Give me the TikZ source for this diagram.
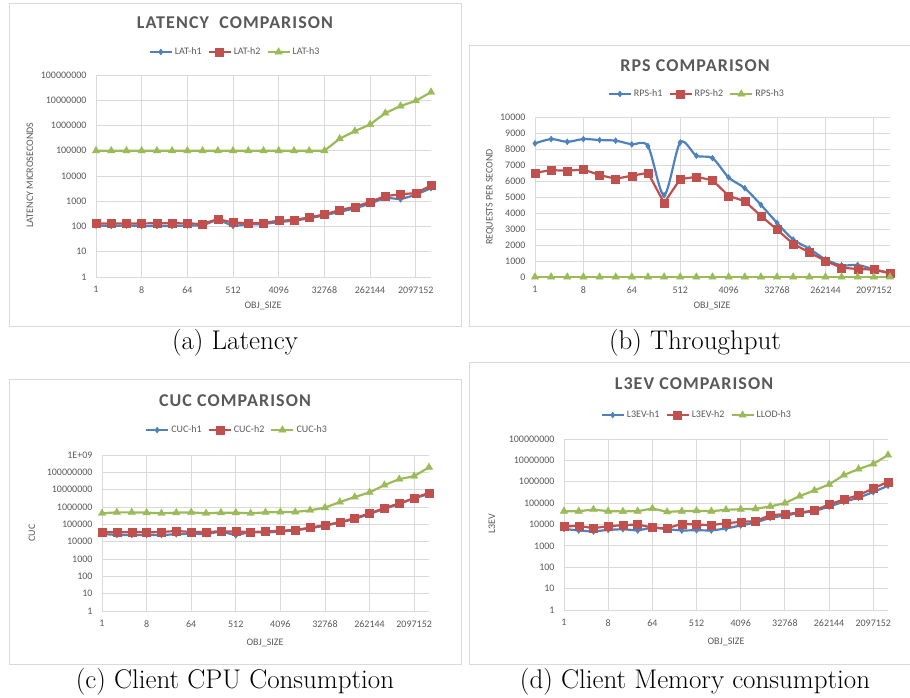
\documentclass[tikz,border=0pt]{standalone}
\usepackage{fontspec}
\usepackage{pgfplots}
\usepackage{pgfplotstable}
\pgfplotsset{compat=1.18}

\newfontfamily\xlfont{Carlito}
\newfontfamily\xlheadfont[LetterSpace=6]{Carlito}

\definecolor{xlblue}{HTML}{4F81BD}
\definecolor{xlred}{HTML}{C0504D}
\definecolor{xlgreen}{HTML}{9BBB59}
\definecolor{gridgray}{HTML}{D9D9D9}
\definecolor{txtgray}{HTML}{595959}

% measured series, one row per OBJ_SIZE (1 ... 4194304)
\pgfplotstableread{
h1 h2 h3
110 130 100000
105 132 100000
110 132 100000
105 132 100000
105 135 100000
105 135 100000
110 132 100000
110 128 100000
190 195 100000
105 145 100000
120 135 100000
125 140 100000
150 170 100000
170 180 100000
210 230 100000
280 300 100000
380 450 300000
520 600 600000
800 950 1100000
1400 1600 3100000
1200 1900 5900000
1800 2100 9500000
3300 4200 21000000
}\latdata

\pgfplotstableread{
h1 h2 h3
8350 6510 0
8620 6680 0
8450 6640 0
8620 6720 0
8560 6370 0
8520 6140 0
8290 6330 0
8180 6510 0
5110 4630 0
8410 6120 0
7580 6260 0
7430 6050 0
6220 5070 0
5550 4740 0
4510 3820 0
3380 2960 0
2340 2070 0
1770 1540 0
1100 1000 0
730 580 0
750 500 0
480 460 0
250 230 0
}\rpsdata

\pgfplotstableread{
h1 h2 h3
27800 34600 433000
24400 34600 491000
24400 34600 491000
24400 34600 472000
24400 36200 433000
26600 41400 472000
29100 36200 491000
26600 36200 433000
39700 39700 472000
23300 37900 472000
36200 36200 433000
33200 37900 491000
37900 43300 516000
45200 47200 516000
58900 64400 643000
83800 91500 915000
125000 130000 1940000
203000 231000 3760000
393000 428000 6970000
795000 869000 18400000
1470000 1610000 40600000
3260000 3260000 60300000
5530000 6600000 194000000
}\cucdata

\pgfplotstableread{
h1 h2 h3
6270 8060 42000
5230 8660 42000
4700 6720 50000
5620 8350 42000
6050 9300 41000
5230 10000 42000
7200 7200 56000
6050 6700 39000
5230 10700 42000
5400 10000 44000
5230 9300 42000
6500 11500 48700
8980 13300 52000
12400 14300 54000
20500 27400 70000
26400 30500 100000
34000 36500 213000
42000 45300 393000
69000 86600 750000
116000 148000 2050000
178000 237000 3930000
330000 487000 6760000
650000 1000000 17800000
}\evdata

\pgfplotsset{
  xlchart/.style={
    scale only axis, clip=false,
    axis line style={draw=none},
    tick style={draw=none},
    xmin=0, xmax=22,
    xtick={0,3,...,21},
    xticklabels={1,8,64,512,4096,32768,262144,2097152},
    grid=major,
    major grid style={draw=gridgray, line width=0.9pt},
    ticklabel style={font=\xlfont\fontsize{10}{12}\selectfont, text=txtgray},
    xticklabel style={yshift=-6pt},
    yticklabel style={xshift=-6pt},
    every axis plot/.append style={line width=2.2pt, mark options={line width=0.4pt}},
    legend columns=3,
    legend style={draw=none, fill=none, anchor=center,
      font=\xlfont\fontsize{10}{12}\selectfont, text=txtgray,
      /tikz/every even column/.append style={column sep=4pt}},
    legend image code/.code={\draw[mark repeat=2,mark phase=2,##1]
      plot coordinates {(0pt,0pt) (11pt,0pt) (22pt,0pt)};},
  },
  h1plot/.style={xlblue, mark=diamond*, mark size=3pt},
  h2plot/.style={xlred, mark=square*, mark size=4pt},
  h3plot/.style={xlgreen, mark=triangle*, mark size=4.3pt},
}

\begin{document}
\begin{tikzpicture}[x=1pt, y=-1pt,
    frame/.style={draw=gridgray, line width=0.9pt},
    charttitle/.style={font=\xlheadfont\bfseries\fontsize{18}{20}\selectfont, text=txtgray},
    axislabel/.style={font=\xlfont\fontsize{10}{12}\selectfont, text=txtgray},
    subcaption/.style={font=\fontsize{27}{30}\selectfont}]
  \useasboundingbox (0,0) rectangle (910,698);

  % (a) latency
  \draw[frame] (9,3) rectangle (461,326);
  \node[charttitle] (latTitle) at (235,23) {LATENCY\ \ COMPARISON};
  \coordinate (latPlot) at (96,277);
  \begin{axis}[xlchart, at={(latPlot)}, anchor=south west,
      width=335pt, height=202pt, legend style={at={(0.415,1.114)}},
      ymode=log, ymin=1, ymax=1e8,
      ytick={1,10,100,1000,10000,100000,1000000,10000000,100000000},
      yticklabels={1,10,100,1000,10000,100000,1000000,10000000,100000000}]
    \addplot[h1plot] table[x expr=\coordindex, y=h1] {\latdata};
    \addplot[h2plot] table[x expr=\coordindex, y=h2] {\latdata};
    \addplot[h3plot] table[x expr=\coordindex, y=h3] {\latdata};
    \legend{LAT-h1,LAT-h2,LAT-h3}
  \end{axis}
  \node[axislabel, rotate=90] (latY) at (30,175) {LATENCY MICROSECONDS};
  \node[axislabel] (latX) at (263,306) {OBJ\_SIZE};
  \node[subcaption] (latCap) at (235,343) {(a) Latency};

  % (b) throughput
  \draw[frame] (910,45) -- (469,45) -- (469,326) -- (910,326);
  \node[charttitle] (rpsTitle) at (695,66) {RPS COMPARISON};
  \coordinate (rpsPlot) at (535,277);
  \begin{axis}[xlchart, at={(rpsPlot)}, anchor=south west,
      width=355pt, height=160pt, legend style={at={(0.456,1.144)}},
      ymin=0, ymax=10000, ytick={0,1000,...,10000}, scaled y ticks=false,
      yticklabels={0,1000,2000,3000,4000,5000,6000,7000,8000,9000,10000}]
    \addplot[h1plot, smooth, tension=0.5] table[x expr=\coordindex, y=h1] {\rpsdata};
    \addplot[h2plot] table[x expr=\coordindex, y=h2] {\rpsdata};
    \addplot[h3plot] table[x expr=\coordindex, y=h3] {\rpsdata};
    \legend{RPS-h1,RPS-h2,RPS-h3}
  \end{axis}
  \node[axislabel, rotate=90] (rpsY) at (490,197) {REQUESTS PER SECOND};
  \node[axislabel] (rpsX) at (712,306) {OBJ\_SIZE};
  \node[subcaption] (rpsCap) at (695,343) {(b) Throughput};

  % (c) client cpu
  \draw[frame] (9,379) rectangle (461,664);
  \node[charttitle] (cucTitle) at (235,401) {CUC COMPARISON};
  \coordinate (cucPlot) at (102,611);
  \begin{axis}[xlchart, at={(cucPlot)}, anchor=south west,
      width=327pt, height=156pt, legend style={at={(0.413,1.160)}},
      ymode=log, ymin=1, ymax=1e9,
      ytick={1,10,100,1000,10000,100000,1000000,10000000,100000000,1000000000},
      yticklabels={1,10,100,1000,10000,100000,1000000,10000000,100000000,1E+09}]
    \addplot[h1plot] table[x expr=\coordindex, y=h1] {\cucdata};
    \addplot[h2plot] table[x expr=\coordindex, y=h2] {\cucdata};
    \addplot[h3plot] table[x expr=\coordindex, y=h3] {\cucdata};
    \legend{CUC-h1,CUC-h2,CUC-h3}
  \end{axis}
  \node[axislabel, rotate=90] (cucY) at (32,533) {CUC};
  \node[axislabel] (cucX) at (265,643) {OBJ\_SIZE};
  \node[subcaption] (cucCap) at (235,682) {(c) Client CPU Consumption};

  % (d) client memory
  \draw[frame] (910,362) -- (469,362) -- (469,664) -- (910,664);
  \node[charttitle] (evTitle) at (694,384) {L3EV COMPARISON};
  \coordinate (evPlot) at (564,610);
  \begin{axis}[xlchart, at={(evPlot)}, anchor=south west,
      width=324pt, height=171pt, legend style={at={(0.410,1.140)}},
      ymode=log, ymin=1, ymax=1e8,
      ytick={1,10,100,1000,10000,100000,1000000,10000000,100000000},
      yticklabels={1,10,100,1000,10000,100000,1000000,10000000,100000000}]
    \addplot[h1plot] table[x expr=\coordindex, y=h1] {\evdata};
    \addplot[h2plot] table[x expr=\coordindex, y=h2] {\evdata};
    \addplot[h3plot] table[x expr=\coordindex, y=h3] {\evdata};
    \legend{L3EV-h1,L3EV-h2,LLOD-h3}
  \end{axis}
  \node[axislabel, rotate=90] (evY) at (492,524) {L3EV};
  \node[axislabel] (evX) at (726,642) {OBJ\_SIZE};
  \node[subcaption] (evCap) at (695,682) {(d) Client Memory consumption};
\end{tikzpicture}
\end{document}
